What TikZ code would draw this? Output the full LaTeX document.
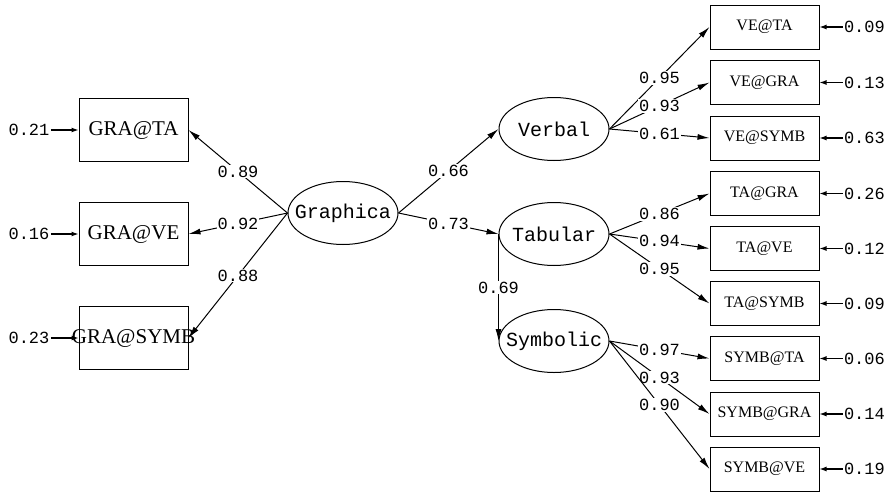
\documentclass[tikz,border=0pt]{standalone}
\usepackage{fontspec}
\usetikzlibrary{shapes.geometric, arrows.meta}
\newfontfamily\lismono{Liberation Mono}
\newfontfamily\lisserif{Liberation Serif}
\newcommand{\coeffont}{\lismono\fontsize{17}{17}\selectfont}
\newcommand{\latfont}{\lismono\fontsize{20}{20}\selectfont}
\newcommand{\bigobsfont}{\lisserif\fontsize{21}{21}\selectfont}
\newcommand{\smallobsfont}{\lisserif\fontsize{16}{16}\selectfont}
\begin{document}
\begin{tikzpicture}[x=1pt, y=-1pt, line width=1pt,
    latent/.style={draw, ellipse, minimum width=110pt, minimum height=63pt, inner xsep=-10pt, inner ysep=0pt, font=\latfont},
    obsbig/.style={draw, rectangle, minimum width=109pt, minimum height=63pt, inner sep=0pt, font=\bigobsfont},
    obssmall/.style={draw, rectangle, minimum width=109pt, minimum height=44pt, inner sep=0pt, font=\smallobsfont},
    coef/.style={fill=white, inner sep=1pt, font=\coeffont},
    errlab/.style={inner sep=1pt, font=\coeffont},
    load/.style={-{Latex[length=12pt, width=6pt]}},
    errarrow/.style={-{Latex[length=7pt, width=5pt]}, line width=1.2pt}]
    \useasboundingbox (0,0) rectangle (893,493);

    % latente Variablen
    \node[latent] (graphica) at (343,213) {Graphica};
    \node[latent] (verbal)   at (554,129) {Verbal};
    \node[latent] (tabular)  at (554,234) {Tabular};
    \node[latent] (symbolic) at (554,341) {Symbolic};

    % Indikatoren links
    \node[obsbig] (grata)   at (133.5,130) {GRA@TA};
    \node[obsbig] (grave)   at (133.5,234) {GRA@VE};
    \node[obsbig] (grasymb) at (133.5,338) {\makebox[0pt]{GRA@SYMB}};

    % Indikatoren rechts
    \node[obssmall] (veta)    at (764.5,27)    {VE@TA};
    \node[obssmall] (vegra)   at (764.5,82.5)  {VE@GRA};
    \node[obssmall] (vesymb)  at (764.5,138)   {VE@SYMB};
    \node[obssmall] (tagra)   at (764.5,193.5) {TA@GRA};
    \node[obssmall] (tave)    at (764.5,248.5) {TA@VE};
    \node[obssmall] (tasymb)  at (764.5,303.5) {TA@SYMB};
    \node[obssmall] (symbta)  at (764.5,358.5) {SYMB@TA};
    \node[obssmall] (symbgra) at (764.5,414)   {SYMB@GRA};
    \node[obssmall] (symbve)  at (764.5,469)   {SYMB@VE};

    % Ladungen
    \draw[load] (graphica.west) -- node[coef] {0.89} (grata.east);
    \draw[load] (graphica.west) -- node[coef] {0.92} (grave.east);
    \draw[load] (graphica.west) -- node[coef] {0.88} (grasymb.east);

    \draw[load] (graphica.east) -- node[coef] {0.66} (verbal.west);
    \draw[load] (graphica.east) -- node[coef] {0.73} (tabular.west);
    \draw[load] (tabular.west) -- node[coef] {0.69} (symbolic.west);

    \draw[load] (verbal.east) -- node[coef] {0.95} (veta.west);
    \draw[load] (verbal.east) -- node[coef] {0.93} (vegra.west);
    \draw[load] (verbal.east) -- node[coef] {0.61} (vesymb.west);

    \draw[load] (tabular.east) -- node[coef] {0.86} (tagra.west);
    \draw[load] (tabular.east) -- node[coef] {0.94} (tave.west);
    \draw[load] (tabular.east) -- node[coef] {0.95} (tasymb.west);

    \draw[load] (symbolic.east) -- node[coef] {0.97} (symbta.west);
    \draw[load] (symbolic.east) -- node[coef] {0.93} (symbgra.west);
    \draw[load] (symbolic.east) -- node[coef] {0.90} (symbve.west);

    % Fehlervarianzen links
    \node[errlab] (egrata)   at (29,130) {0.21};
    \node[errlab] (egrave)   at (29,234) {0.16};
    \node[errlab] (egrasymb) at (29,338) {0.23};
    \draw[errarrow] (egrata) -- (grata);
    \draw[errarrow] (egrave) -- (grave);
    \draw[errarrow] (egrasymb) -- (grasymb);

    % Fehlervarianzen rechts
    \foreach \obs/\val in {veta/0.09, vegra/0.13, vesymb/0.63, tagra/0.26, tave/0.12,
                           tasymb/0.09, symbta/0.06, symbgra/0.14, symbve/0.19} {
        \node[errlab, anchor=west] (e\obs) at ([xshift=23pt]\obs.east) {\val};
        \draw[errarrow] (e\obs.west) -- (\obs.east);
    }
\end{tikzpicture}
\end{document}
